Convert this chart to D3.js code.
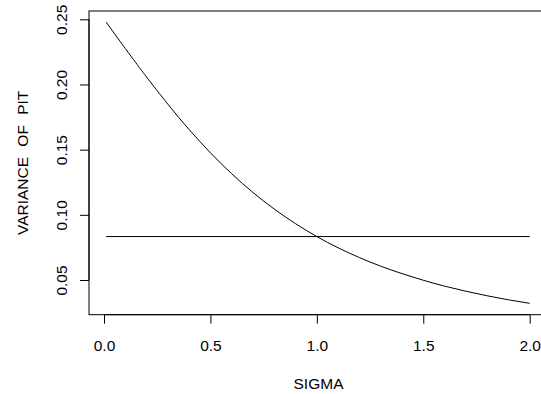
<!DOCTYPE html>
<html>
<head>
<meta charset="utf-8">
<script src="https://cdn.jsdelivr.net/npm/d3@7"></script>
<style>
  html, body { margin: 0; padding: 0; background: #fff; }
  svg text { font-family: "Liberation Sans", Arial, Helvetica, sans-serif; fill: #000; }
</style>
</head>
<body>
<svg id="chart" width="541" height="394"></svg>
<script>
// Variance of the PIT value against the forecast spread sigma
const sigma = [0.01, 0.05, 0.1, 0.15, 0.2, 0.3, 0.4, 0.5, 0.6, 0.7, 0.8, 0.9, 1.0,
               1.1, 1.2, 1.3, 1.4, 1.5, 1.6, 1.7, 1.8, 1.9, 2.0];
const pitVariance = [0.2478, 0.2388, 0.2276, 0.2166, 0.2057, 0.1849, 0.1654, 0.1476,
                     0.1315, 0.1171, 0.1044, 0.0932, 0.0833, 0.0747, 0.0672, 0.0606,
                     0.0549, 0.0498, 0.0453, 0.0414, 0.0379, 0.0348, 0.0321];
// Reference level: variance of a uniform PIT
const uniformVariance = 1 / 12;

const xTicks = [0.0, 0.5, 1.0, 1.5, 2.0];
const yTicks = [0.05, 0.10, 0.15, 0.20, 0.25];

const svg = d3.select("#chart");
const box = { left: 89, right: 548, top: 11, bottom: 314.7 };
const fontSize = 15.5;

const x = d3.scaleLinear().domain([0, 2]).range([104, 529.7]);
const y = d3.scaleLinear().domain([0.05, 0.25]).range([280, 19.3]);

// plot frame
svg.append("rect")
  .attr("x", box.left).attr("y", box.top)
  .attr("width", box.right - box.left).attr("height", box.bottom - box.top)
  .attr("fill", "none").attr("stroke", "#000").attr("stroke-width", 1);

// x axis
const xAxis = svg.append("g")
  .attr("transform", `translate(0,${box.bottom})`)
  .call(d3.axisBottom(x).tickValues(xTicks).tickSize(9).tickSizeOuter(0)
    .tickFormat(d3.format(".1f")));
xAxis.select(".domain")
  .attr("d", `M${x(xTicks[0])},0H${x(xTicks[xTicks.length - 1])}`);
xAxis.selectAll("text").attr("font-size", fontSize).attr("dy", null).attr("y", 36);
xAxis.attr("font-family", null);

// y axis
const yAxis = svg.append("g")
  .attr("transform", `translate(${box.left},0)`)
  .call(d3.axisLeft(y).tickValues(yTicks).tickSize(9).tickSizeOuter(0)
    .tickFormat(d3.format(".2f")));
yAxis.select(".domain")
  .attr("d", `M0,${y(yTicks[0])}V${y(yTicks[yTicks.length - 1])}`);
yAxis.selectAll(".tick text")
  .attr("font-size", fontSize)
  .attr("x", null).attr("dy", null)
  .attr("text-anchor", "middle")
  .attr("transform", "translate(-22.3,0) rotate(-90)");
yAxis.attr("font-family", null);

// axis titles
svg.append("text")
  .attr("x", (box.left + box.right) / 2).attr("y", 388.7)
  .attr("text-anchor", "middle").attr("font-size", fontSize)
  .text("SIGMA");
svg.append("text")
  .attr("transform", `translate(28.3,${(box.top + box.bottom) / 2}) rotate(-90)`)
  .attr("text-anchor", "middle").attr("font-size", fontSize)
  .attr("word-spacing", 6)
  .text("VARIANCE OF PIT");

// curve
const line = d3.line()
  .x((d, i) => x(sigma[i]))
  .y(d => y(d))
  .curve(d3.curveNatural);
svg.append("path")
  .datum(pitVariance)
  .attr("d", line)
  .attr("fill", "none").attr("stroke", "#000").attr("stroke-width", 1);

// uniform reference line
svg.append("line")
  .attr("x1", x(sigma[0])).attr("x2", x(sigma[sigma.length - 1]))
  .attr("y1", y(uniformVariance)).attr("y2", y(uniformVariance))
  .attr("stroke", "#000").attr("stroke-width", 1);
</script>
</body>
</html>
